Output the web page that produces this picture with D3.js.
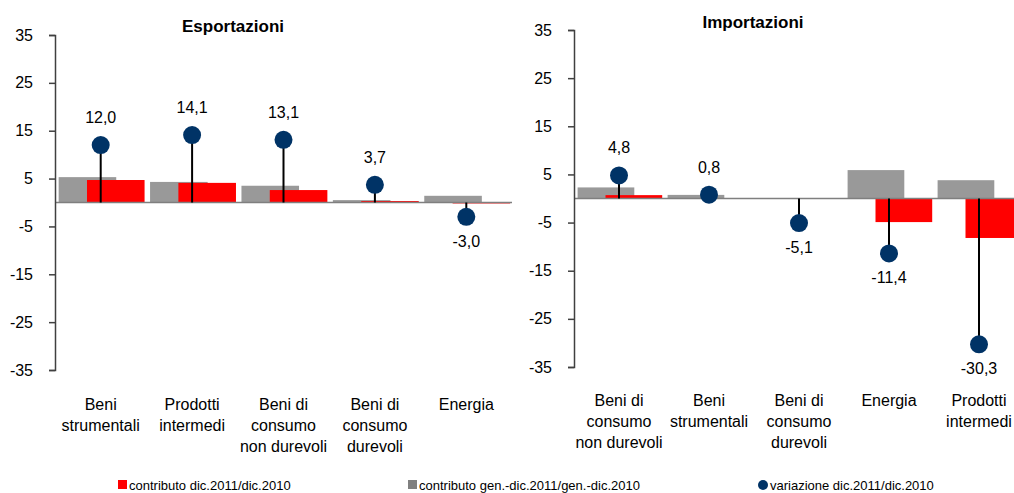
<!DOCTYPE html>
<html lang="it">
<head>
<meta charset="utf-8">
<script src="https://cdn.jsdelivr.net/npm/d3@7"></script>
<style>
  body { margin: 0; background: #fff; }
  svg { font-family: "Liberation Sans Narrow", "Arial Narrow", "Liberation Sans", Arial, sans-serif; }
</style>
</head>
<body>
<script>
// dati
let expCategories = [["Beni", "strumentali"], ["Prodotti", "intermedi"], ["Beni di", "consumo", "non durevoli"], ["Beni di", "consumo", "durevoli"], ["Energia"]];
let expGenDic = [5.3, 4.3, 3.5, 0.5, 1.4];
let expDic = [4.7, 4.1, 2.6, 0.3, -0.2];
let expVar = [12.0, 14.1, 13.1, 3.7, -3.0];

let impCategories = [["Beni di", "consumo", "non durevoli"], ["Beni", "strumentali"], ["Beni di", "consumo", "durevoli"], ["Energia"], ["Prodotti", "intermedi"]];
let impGenDic = [2.3, 0.75, 0, 5.9, 3.8];
let impDic = [0.7, 0.1, 0, -4.9, -8.2];
let impVar = [4.8, 0.8, -5.1, -11.4, -30.3];

let yTicks = [35, 25, 15, 5, -5, -15, -25, -35];
let legendLabels = ["contributo dic.2011/dic.2010", "contributo gen.-dic.2011/gen.-dic.2010", "variazione dic.2011/dic.2010"];

let w = 1014, h = 493;
let svg = d3.select("body").append("svg").attr("width", w).attr("height", h);

let fmt = (v) => v.toFixed(1).replace(".", ",");

function drawPanel(opt) {
    let g = svg.append("g");
    let n = opt.cats.length;
    let xScale = d3.scaleBand().domain(d3.range(n)).range([opt.x0, opt.x1]);
    let yScale = d3.scaleLinear().domain([-35, 35]).range([opt.yBottom, opt.yTop]);
    let bw = xScale.bandwidth();
    let barW = bw * 0.63;

    // barre grigie
    g.selectAll(".gray").data(opt.gen).enter().append("rect")
        .attr("x", (d, i) => xScale(i) + bw / 2 - 0.46 * bw)
        .attr("y", (d) => yScale(Math.max(0, d)))
        .attr("width", barW)
        .attr("height", (d) => Math.abs(yScale(d) - yScale(0)))
        .attr("fill", "#999999");

    // barre rosse
    g.selectAll(".red").data(opt.dic).enter().append("rect")
        .attr("x", (d, i) => xScale(i) + bw / 2 - 0.15 * bw)
        .attr("y", (d) => yScale(Math.max(0, d)))
        .attr("width", barW)
        .attr("height", (d) => Math.abs(yScale(d) - yScale(0)))
        .attr("fill", "#ff0000");

    // linea dello zero
    g.append("line")
        .attr("x1", opt.x0).attr("x2", opt.x1)
        .attr("y1", yScale(0)).attr("y2", yScale(0))
        .attr("stroke", "#7f7f7f").attr("stroke-width", 1.5);

    // steli
    g.selectAll(".stem").data(opt.vars).enter().append("line")
        .attr("x1", (d, i) => xScale(i) + bw / 2)
        .attr("x2", (d, i) => xScale(i) + bw / 2)
        .attr("y1", yScale(0))
        .attr("y2", (d) => yScale(d))
        .attr("stroke", "#000").attr("stroke-width", 2);

    g.selectAll(".dot").data(opt.vars).enter().append("circle")
        .attr("cx", (d, i) => xScale(i) + bw / 2)
        .attr("cy", (d) => yScale(d))
        .attr("r", 9)
        .attr("fill", "#003366");

    g.selectAll(".lbl").data(opt.vars).enter().append("text")
        .attr("x", (d, i) => xScale(i) + bw / 2)
        .attr("y", (d) => d >= 0 ? yScale(d) - 22 : yScale(d) + 30)
        .attr("text-anchor", "middle")
        .attr("font-size", "16px")
        .attr("fill", "#000")
        .text((d) => fmt(d));

    // asse y
    let yAxis = d3.axisLeft(yScale).tickValues(yTicks).tickSize(6).tickPadding(16).tickFormat((d) => String(d));
    let ya = g.append("g")
        .attr("transform", "translate(" + opt.x0 + ",0)")
        .call(yAxis);
    ya.select(".domain").attr("stroke", "#404040").attr("stroke-width", 1.5);
    ya.selectAll(".tick line").attr("stroke", "#404040").attr("stroke-width", 1.5);
    ya.selectAll("text").attr("font-size", "16px").attr("fill", "#000").attr("font-family", null);

    // categorie
    g.selectAll(".cat").data(opt.cats).enter().append("text")
        .attr("text-anchor", "middle")
        .attr("font-size", "16px")
        .each(function (d, i) {
            let t = d3.select(this);
            d.forEach((line, j) => {
                t.append("tspan")
                    .attr("x", xScale(i) + bw / 2)
                    .attr("y", opt.catY + j * 21)
                    .text(line);
            });
        });

    // titolo
    g.append("text")
        .attr("x", opt.titleX).attr("y", opt.titleY)
        .attr("text-anchor", "middle")
        .attr("font-size", "17px")
        .attr("font-weight", "bold")
        .attr("font-family", "'Liberation Sans', Arial, sans-serif")
        .text(opt.title);
}

drawPanel({
    cats: expCategories, gen: expGenDic, dic: expDic, vars: expVar,
    x0: 55, x1: 512, yTop: 35, yBottom: 370, catY: 410,
    title: "Esportazioni", titleX: 233, titleY: 32
});

drawPanel({
    cats: impCategories, gen: impGenDic, dic: impDic, vars: impVar,
    x0: 574, x1: 1024, yTop: 30, yBottom: 367, catY: 406,
    title: "Importazioni", titleX: 753, titleY: 28
});

// legenda
let legend = svg.append("g").attr("font-size", "13px");
let lx = [118, 408, 762];
legend.append("rect").attr("x", lx[0]).attr("y", 480).attr("width", 9).attr("height", 9).attr("fill", "#ff0000");
legend.append("rect").attr("x", lx[1]).attr("y", 480).attr("width", 9).attr("height", 9).attr("fill", "#808080");
legend.append("circle").attr("cx", lx[2] + 1).attr("cy", 485).attr("r", 5).attr("fill", "#003366");
legend.selectAll(".lt").data(legendLabels).enter().append("text")
    .attr("x", (d, i) => lx[i] + (i === 2 ? 8 : 11))
    .attr("y", 490)
    .text((d) => d);
</script>
</body>
</html>
